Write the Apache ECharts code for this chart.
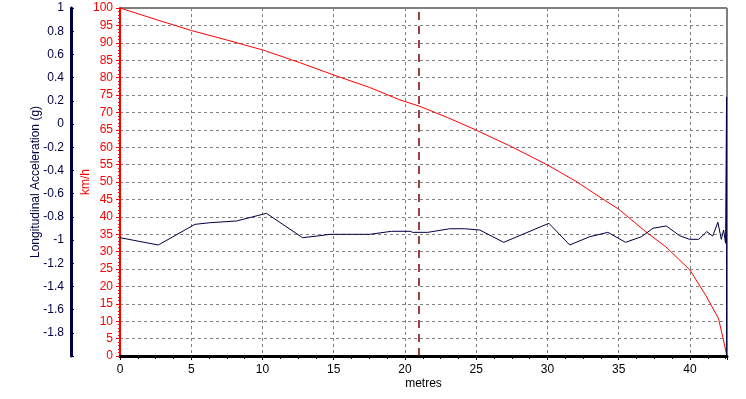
<!DOCTYPE html>
<html>
<head>
<meta charset="utf-8">
<script src="https://cdn.jsdelivr.net/npm/echarts@6/dist/echarts.min.js"></script>
<style>html,body{margin:0;padding:0;background:#fff;}#c{width:746px;height:399px;}</style>
</head>
<body>
<div id="c"></div>
<script>
// Distance (metres) and speed (km/h)
const speedMetres = [0, 2.52, 5.03, 7.5, 10.05, 12.62, 15.03, 17.5, 19.64, 21.0, 23.0, 25.0, 27.5, 30.0, 32.0, 34.0, 35.0, 36.9, 38.3, 40.0, 41.1, 42.0, 42.3, 42.55, 42.57];
const speedKmh    = [100, 96.7, 93.5, 90.8, 87.9, 84.3, 80.7, 77.2, 73.6, 71.8, 68.5, 64.9, 60.1, 54.9, 50.2, 44.8, 42.2, 35.7, 31.4, 24.7, 17.5, 10.8, 5.5, 0.8, 0];
// Distance (metres) and longitudinal acceleration (g)
const accelMetres = [0, 2.69, 5.26, 6.31, 8.18, 10.28, 12.81, 14.03, 14.73, 17.53, 19.05, 20.34, 20.55, 21.6, 23.14, 24.19, 25.25, 26.93, 30.1, 31.56, 32.96, 34.24, 35.48, 36.59, 37.4, 38.34, 39.27, 39.97, 40.62, 41.18, 41.6, 41.96, 42.2, 42.36, 42.5, 42.57, 42.57];
const accelG      = [-0.98, -1.043, -0.865, -0.851, -0.836, -0.77, -0.98, -0.963, -0.951, -0.951, -0.925, -0.925, -0.934, -0.934, -0.903, -0.903, -0.914, -1.02, -0.856, -1.043, -0.972, -0.934, -1.02, -0.972, -0.899, -0.879, -0.963, -0.994, -0.994, -0.928, -0.966, -0.847, -0.994, -0.914, -1.028, 0.233, -2.4];
const markerMetres = 21.0;
const xTicks = { min: 0, max: 42.6, interval: 5 };
const kmhTicks = { min: 0, max: 100, interval: 5 };
const gTicks = { min: -2, max: 1, interval: 0.2 };

const font = 'Liberation Sans, Arial, sans-serif';
const navy = '#000040';
const chart = echarts.init(document.getElementById('c'), null, { renderer: 'canvas' });
chart.setOption({
  animation: false,
  backgroundColor: '#fff',
  grid: { left: 120, right: 19, top: 8, bottom: 43, show: true, borderColor: '#000', borderWidth: 1, backgroundColor: 'transparent' },
  xAxis: {
    type: 'value', min: xTicks.min, max: xTicks.max, interval: xTicks.interval,
    name: 'metres', nameLocation: 'middle', nameGap: 22, nameMoveOverlap: false,
    nameTextStyle: { color: '#000', fontSize: 12, fontFamily: font },
    axisLine: { show: true, onZero: false, lineStyle: { color: '#000', width: 3 } },
    axisTick: { show: true, length: 4, lineStyle: { color: '#000' } },
    minorTick: { show: true, splitNumber: 4, length: 3, lineStyle: { color: '#000' } },
    axisLabel: { color: '#000', fontSize: 12, fontFamily: font, margin: 8, showMaxLabel: false },
    splitLine: { show: true, lineStyle: { color: '#808080', type: [3, 3], width: 1 } }
  },
  yAxis: [
    {
      type: 'value', position: 'left', min: kmhTicks.min, max: kmhTicks.max, interval: kmhTicks.interval,
      name: 'km/h', nameLocation: 'middle', nameGap: 28, nameRotate: 90, nameMoveOverlap: false,
      nameTextStyle: { color: '#ff0000', fontSize: 12, fontFamily: font },
      axisLine: { show: true, lineStyle: { color: '#ff0000', width: 2 } },
      axisTick: { show: true, length: 4, lineStyle: { color: '#ff0000' } },
      minorTick: { show: true, splitNumber: 5, length: 2, lineStyle: { color: '#ff0000' } },
      axisLabel: { color: '#ff0000', fontSize: 12, fontFamily: font, margin: 7 },
      splitLine: { show: true, lineStyle: { color: '#808080', type: [3, 3], width: 1 } }
    },
    {
      type: 'value', position: 'left', offset: 49, min: gTicks.min, max: gTicks.max, interval: gTicks.interval,
      name: 'Longitudinal Acceleration (g)', nameLocation: 'middle', nameGap: 29, nameRotate: 90, nameMoveOverlap: false,
      nameTextStyle: { color: navy, fontSize: 12, fontFamily: font },
      axisLine: { show: true, lineStyle: { color: navy, width: 3 } },
      axisTick: { show: true, inside: true, length: 3, lineStyle: { color: navy } },
      minorTick: { show: true, splitNumber: 4, length: 2, lineStyle: { color: navy } },
      axisLabel: { color: navy, fontSize: 12, fontFamily: font, margin: 7, showMinLabel: false,
        formatter: v => String(Math.round(v * 10) / 10) },
      splitLine: { show: false }
    }
  ],
  series: [
    {
      type: 'line', yAxisIndex: 0, showSymbol: false, symbol: 'none', clip: true,
      data: speedMetres.map((m, i) => [m, speedKmh[i]]),
      lineStyle: { color: '#ff0000', width: 1 }, itemStyle: { color: '#ff0000' },
      markLine: {
        silent: true, symbol: 'none', label: { show: false },
        lineStyle: { color: '#800000', type: [8, 6], width: 1.5 },
        data: [{ xAxis: markerMetres }]
      }
    },
    {
      type: 'line', yAxisIndex: 1, showSymbol: false, symbol: 'none', clip: true,
      data: accelMetres.map((m, i) => [m, accelG[i]]),
      lineStyle: { color: navy, width: 1 }, itemStyle: { color: navy }
    }
  ]
});
</script>
</body>
</html>
